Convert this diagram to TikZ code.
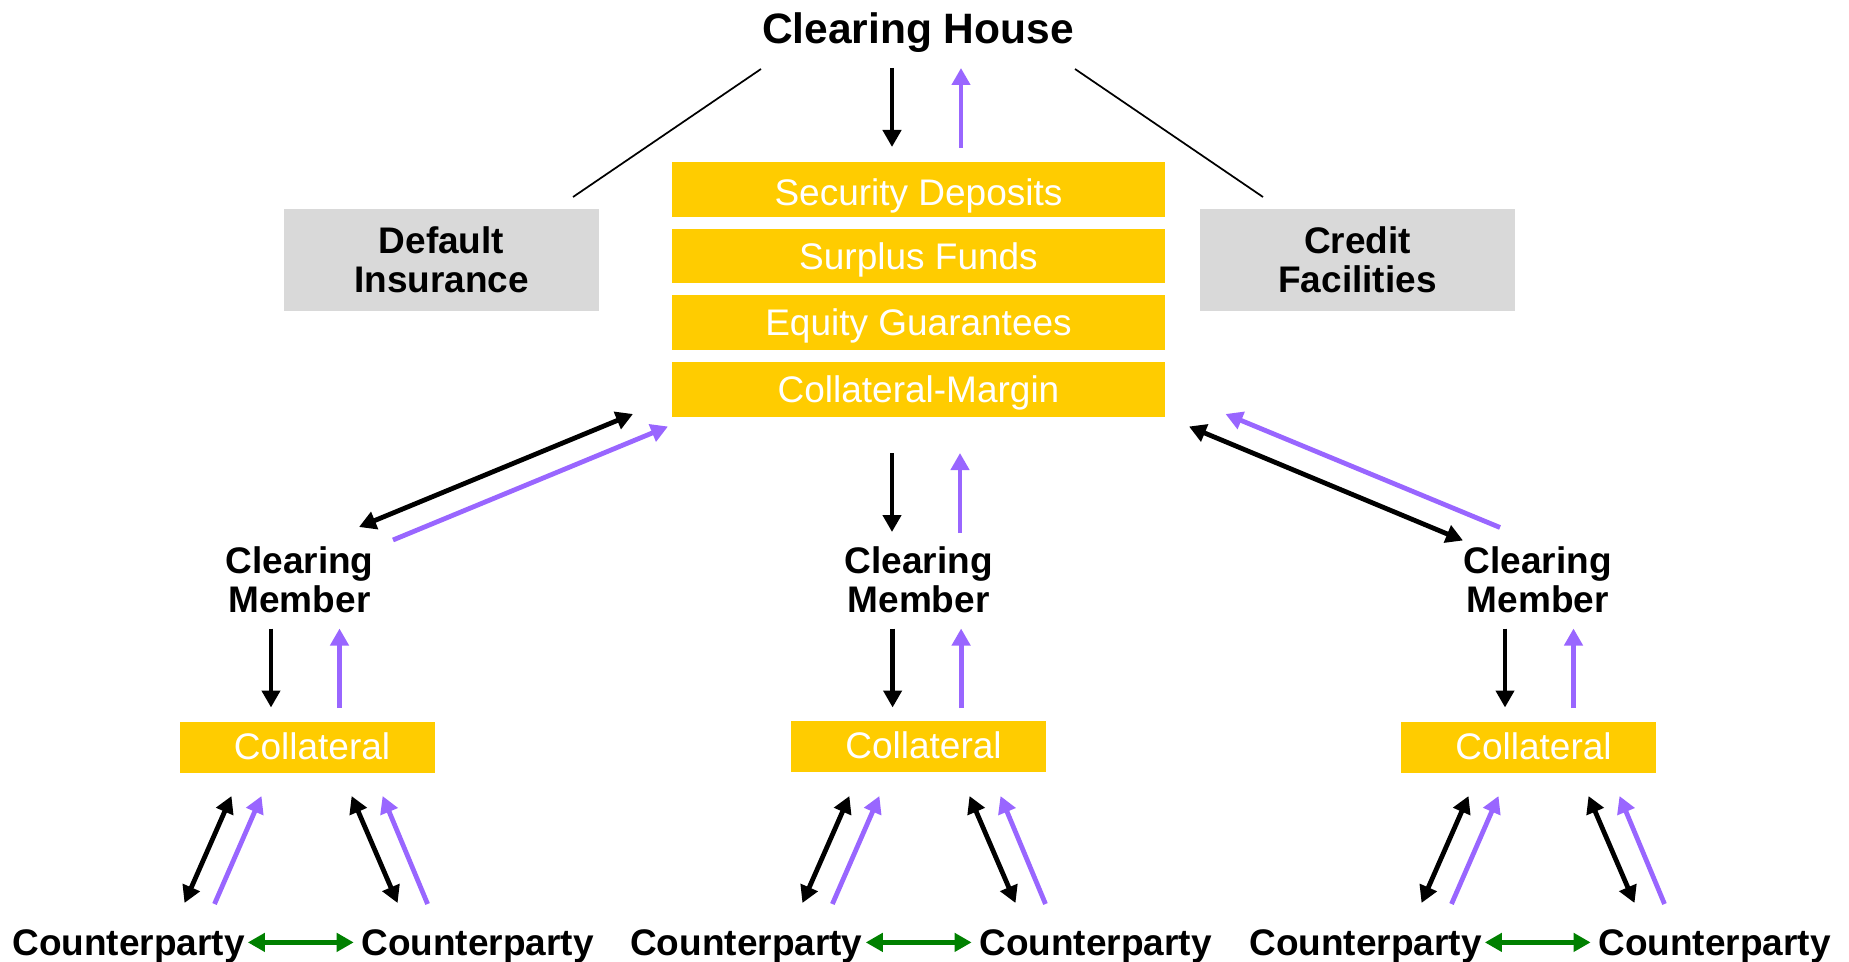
\documentclass[tikz,border=0pt]{standalone}
\usepackage{fontspec}
\setmainfont{Liberation Sans}
\usetikzlibrary{arrows.meta}
\definecolor{gold}{RGB}{255,204,0}
\definecolor{lav}{RGB}{153,102,255}
\definecolor{paleg}{RGB}{217,217,217}
\definecolor{dgreen}{RGB}{0,128,0}

\begin{document}
\begin{tikzpicture}[x=0.75pt,y=-0.75pt,
  >={Triangle[length=12.75pt,width=13.5pt]},
  bodyfont/.style={font=\fontsize{27.75}{29.5}\selectfont},
  lbl/.style={font=\bfseries\fontsize{27.75}{29.5}\selectfont, align=center, inner sep=0pt},
  oneline/.style={text height=19.9pt, text depth=0pt},
  fund/.style={bodyfont, fill=gold, text=white, inner sep=0pt, oneline,
    minimum width=369.75pt, minimum height=40.9pt},
  pool/.style={fill=gold, inner sep=0pt,
    minimum width=191.25pt, minimum height=38.25pt},
  pooltext/.style={bodyfont, text=white, inner sep=0pt, oneline},
  side/.style={lbl, fill=paleg, minimum width=236.25pt, minimum height=76.5pt},
  party/.style={lbl, oneline},
  flow/.style={line width=3.6pt, ->},
  dual/.style={line width=3.6pt, <->},
  trade/.style={dual, dgreen, shorten <=2.2pt, shorten >=5.6pt},
  link/.style={line width=1.3pt},
]
\useasboundingbox (0,0) rectangle (1849,962);

% --- clearing house and its guarantee layers ---
\node[lbl, oneline, font=\bfseries\fontsize{31.9}{34}\selectfont, text height=22.8pt] (ch) at (918,28) {Clearing House};
\node[fund, text height=23.6pt] (sd) at (918.5,189.5) {Security Deposits};
\node[fund] (sf) at (918.5,256.1) {Surplus Funds};
\node[fund] (eg) at (918.5,322.7) {Equity Guarantees};
\node[fund] (cmg) at (918.5,389.3) {Collateral-Margin};

\node[side] (di) at (441.5,260) {Default\\Insurance};
\node[side] (cf) at (1357.5,260) {Credit\\Facilities};

% thin links to the outside backstops
\coordinate (chL) at (761,69);  \coordinate (diT) at (573,197);
\coordinate (chR) at (1075,69); \coordinate (cfT) at (1263,197);
\draw[link] (chL) -- (diT);
\draw[link] (chR) -- (cfT);

% flows between clearing house and the layers
\coordinate (h1) at (892,68);  \coordinate (h2) at (892,147);
\coordinate (h3) at (961,148); \coordinate (h4) at (961,68);
\draw[flow] (h1) -- (h2);
\draw[flow, lav] (h3) -- (h4);

% --- clearing members ---
\node[lbl] (mL) at (299.5,579.5) {Clearing\\Member};
\node[lbl] (mM) at (918.6,579.5) {Clearing\\Member};
\node[lbl] (mR) at (1537.7,579.5) {Clearing\\Member};

% left member <-> margin
\coordinate (l1) at (633,414);   \coordinate (l2) at (359,527);
\coordinate (l3) at (393,540);   \coordinate (l4) at (668,426.5);
\draw[dual] (l1) -- (l2);
\draw[flow, lav] (l3) -- (l4);

% middle member <-> margin
\coordinate (m1) at (892,453);   \coordinate (m2) at (892,532);
\coordinate (m3) at (960,533);   \coordinate (m4) at (960,453);
\draw[flow] (m1) -- (m2);
\draw[flow, lav] (m3) -- (m4);

% right member <-> margin
\coordinate (r1) at (1189,426.5); \coordinate (r2) at (1463,540.5);
\coordinate (r3) at (1500,527.5); \coordinate (r4) at (1225.5,414);
\draw[dual] (r1) -- (r2);
\draw[flow, lav] (r3) -- (r4);

% --- member collateral pools ---
\node[pool] (colL) at (307,747.2) {};
\node[pool] (colM) at (918.5,746.5) {};
\node[pool] (colR) at (1528.5,747.2) {};
\node[pooltext] (colLt) at (312,746) {Collateral};
\node[pooltext] (colMt) at (923.5,745.3) {Collateral};
\node[pooltext] (colRt) at (1533.5,746) {Collateral};

\foreach \g/\x in {L/271, M/892.6, R/1505} {
  \coordinate (d\g a) at (\x,628.5);    \coordinate (d\g b) at (\x,707.5);
  \coordinate (u\g a) at (\x+68.5,708); \coordinate (u\g b) at (\x+68.5,628.5);
  \draw[flow] (d\g a) -- (d\g b);
  \draw[flow, lav] (u\g a) -- (u\g b);
}

% --- counterparties ---
\node[party] (p1) at (128.5,942.4) {Counterparty};
\node[party] (p2) at (477.6,942.4) {Counterparty};
\node[party] (p3) at (746.4,942.4) {Counterparty};
\node[party] (p4) at (1095.5,942.4) {Counterparty};
\node[party] (p5) at (1365.5,942.4) {Counterparty};
\node[party] (p6) at (1714.5,942.4) {Counterparty};

\draw[trade] (p1) -- (p2);
\draw[trade] (p3) -- (p4);
\draw[trade] (p5) -- (p6);

% counterparty <-> collateral flows
\foreach \g/\L/\R in {1/128.5/477.6, 2/746.4/1095.5, 3/1365.5/1714.5} {
  \coordinate (ka\g) at (\L+103,796); \coordinate (kb\g) at (\L+56,903);
  \coordinate (kc\g) at (\L+86,904);  \coordinate (kd\g) at (\L+133,796);
  \coordinate (ke\g) at (\R-126,796); \coordinate (kf\g) at (\R-80,903);
  \coordinate (kg\g) at (\R-50,904);  \coordinate (kh\g) at (\R-95,796);
  \draw[dual] (ka\g) -- (kb\g);
  \draw[flow, lav] (kc\g) -- (kd\g);
  \draw[dual] (ke\g) -- (kf\g);
  \draw[flow, lav] (kg\g) -- (kh\g);
}
\end{tikzpicture}
\end{document}
